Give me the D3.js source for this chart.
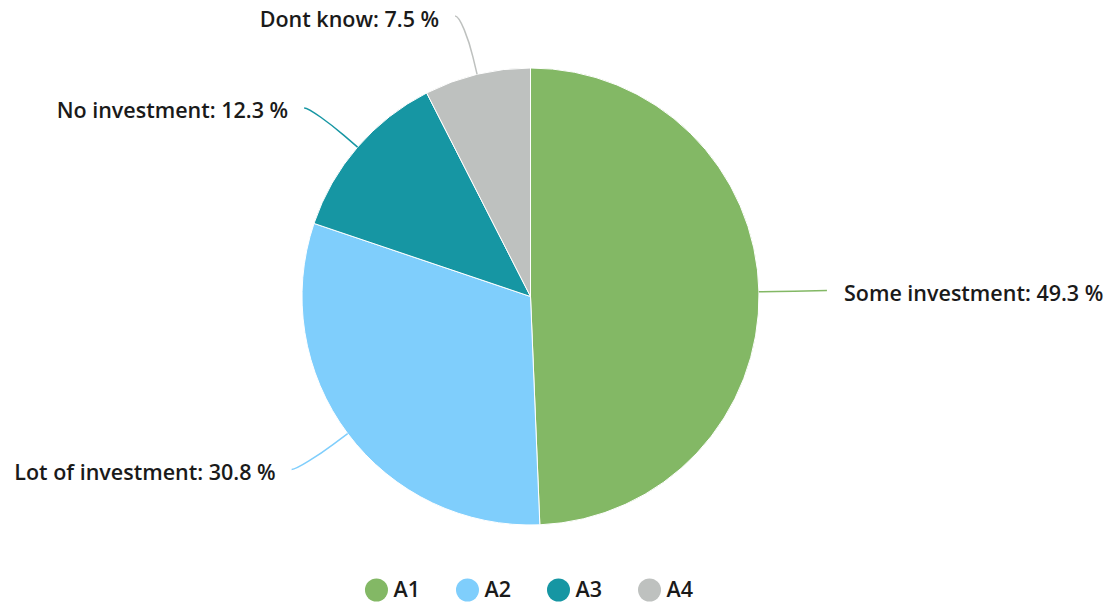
<!DOCTYPE html>
<html>
<head>
<meta charset="utf-8">
<script src="https://cdn.jsdelivr.net/npm/d3@7"></script>
<style>
  html, body { margin: 0; padding: 0; background: #ffffff; }
  svg { display: block; }
  text { font-family: "Open Sans", "Noto Sans", sans-serif; font-weight: 600; fill: #1a1a1a; }
</style>
</head>
<body>
<svg id="chart" width="1118" height="603"></svg>
<script>
// Survey answers and their shares (%)
const labels = ["Some investment", "Lot of investment", "No investment", "Dont know"];
const legendNames = ["A1", "A2", "A3", "A4"];
const shares = [49.3, 30.8, 12.3, 7.5];
const colors = ["#83b865", "#7fcefc", "#1696a3", "#bec1bf"];

const W = 1118, H = 603;
const cx = 530.5, cy = 296.5, r = 228.5;

const svg = d3.select("#chart");
const g = svg.append("g").attr("transform", `translate(${cx},${cy})`);

const data = shares.map((v, i) => ({ label: labels[i], name: legendNames[i], value: v, color: colors[i] }));

const pie = d3.pie().value(d => d.value).sort(null).startAngle(0).endAngle(2 * Math.PI);
const arcs = pie(data);
const arc = d3.arc().innerRadius(0).outerRadius(r);

g.selectAll("path.slice")
  .data(arcs)
  .join("path")
  .attr("class", "slice")
  .attr("d", arc)
  .attr("fill", d => d.data.color)
  .attr("stroke", "#ffffff")
  .attr("stroke-width", 1)
  .attr("stroke-linejoin", "round");

// Point on a circle of radius rad at angle a (0 = top, clockwise)
const pos = (a, rad) => [Math.sin(a) * rad, -Math.cos(a) * rad];

const labelR = r + 60;
const fmt = d3.format(".1f");

arcs.forEach(d => {
  const a = (d.startAngle + d.endAngle) / 2;
  const right = Math.sin(a) >= 0;
  const touch = pos(a, r);
  const brk = pos(a, r + 18);
  const [lx0, ly] = pos(a, labelR);
  const lx = lx0 + (right ? 8 : -8);

  // Soft connector: curve from the label into a short radial stub at the rim
  const path = d3.path();
  path.moveTo(lx, ly);
  path.bezierCurveTo(lx + (right ? -5 : 5), ly,
                     2 * brk[0] - touch[0], 2 * brk[1] - touch[1],
                     brk[0], brk[1]);
  path.lineTo(touch[0], touch[1]);

  g.append("path")
    .attr("d", path.toString())
    .attr("fill", "none")
    .attr("stroke", d.data.color)
    .attr("stroke-width", 1.5);

  g.append("text")
    .attr("x", lx + (right ? 17 : -16))
    .attr("y", ly + 3)
    .attr("dy", "0.35em")
    .attr("text-anchor", right ? "start" : "end")
    .attr("font-size", 21.5)
    .text(`${d.data.label}: ${fmt(d.data.value)} %`);
});

// Legend along the bottom
const legend = svg.append("g").attr("class", "legend");
const items = legend.selectAll("g.item").data(data).join("g").attr("class", "item");
items.append("circle").attr("r", 11.5).attr("cx", 0).attr("cy", 0).attr("fill", d => d.color);
items.append("text")
  .attr("x", 17).attr("y", 6.5)
  .attr("font-size", 21.5)
  .text(d => d.name);

let xoff = 0;
const gap = 36;
const widths = [];
items.each(function () { widths.push(this.getBBox().width); });
const positions = widths.map(w => { const p = xoff; xoff += w + gap; return p; });
const total = xoff - gap;
const startX = 529 - total / 2 + 11.5;
items.attr("transform", (d, i) => `translate(${startX + positions[i]},${590})`);
</script>
</body>
</html>
